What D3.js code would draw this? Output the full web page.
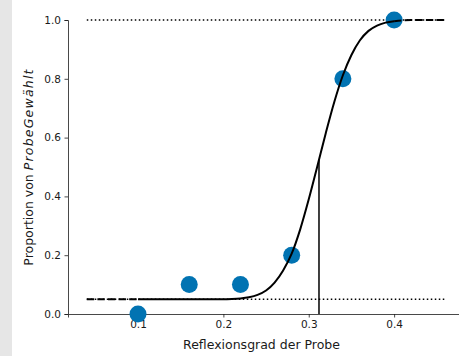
<!DOCTYPE html>
<html>
<head>
<meta charset="utf-8">
<script src="https://cdn.jsdelivr.net/npm/d3@7"></script>
<style>
  body { margin: 0; background: white; }
  svg { display: block; }
  text { font-family: "DejaVu Sans", sans-serif; }
</style>
</head>
<body>
<svg id="chart" width="459" height="356"></svg>
<script>
// observed proportions
var reflect = [0.10, 0.16, 0.22, 0.28, 0.34, 0.40];
var propChosen = [0.0, 0.1, 0.1, 0.2, 0.8, 1.0];

// fitted curve
var curveX = [0.04, 0.05, 0.06, 0.07, 0.08, 0.09, 0.10, 0.11, 0.12, 0.13, 0.14, 0.15,
              0.16, 0.17, 0.18, 0.19, 0.20, 0.21, 0.22, 0.23, 0.24, 0.25, 0.26, 0.27,
              0.28, 0.29, 0.30, 0.31, 0.32, 0.33, 0.34, 0.35, 0.36, 0.37, 0.38, 0.39,
              0.40, 0.41, 0.42, 0.43, 0.44, 0.45, 0.46];
var curveY = [0.050, 0.050, 0.050, 0.050, 0.050, 0.050, 0.050, 0.050, 0.050, 0.050, 0.050, 0.050,
              0.050, 0.050, 0.050, 0.050, 0.050, 0.051, 0.053, 0.057, 0.065, 0.080, 0.107, 0.148,
              0.205, 0.288, 0.390, 0.502, 0.616, 0.722, 0.812, 0.881, 0.931, 0.963, 0.981, 0.991,
              0.996, 0.999, 1.000, 1.000, 1.000, 1.000, 1.000];
var guessRate = 0.05, upperRate = 1.0;
var threshX = 0.312, threshY = 0.525;
var fitRange = [0.10, 0.40];

var xTicks = [0.1, 0.2, 0.3, 0.4];
var yTicks = [0.0, 0.2, 0.4, 0.6, 0.8, 1.0];

var svg = d3.select("#chart");
var mLeft = 68, mRight = 459, mTop = 20, mBottom = 314;

svg.append("rect").attr("x", 0).attr("y", 0).attr("width", 12).attr("height", 356)
   .attr("fill", "#e6e6e6");

var x = d3.scaleLinear().domain([0.018, 0.476]).range([mLeft, mRight]);
var y = d3.scaleLinear().domain([0, 1]).range([mBottom, mTop]);

var xAxis = svg.append("g").attr("transform", "translate(0," + mBottom + ")")
   .call(d3.axisBottom(x).tickValues(xTicks).tickFormat(d3.format(".1f")).tickSize(3.5).tickPadding(3.5));
var yAxis = svg.append("g").attr("transform", "translate(" + mLeft + ",0)")
   .call(d3.axisLeft(y).tickValues(yTicks).tickFormat(d3.format(".1f")).tickSize(3.5).tickPadding(3.5));
[xAxis, yAxis].forEach(function(a) {
    a.selectAll("text").attr("font-size", "10.5px").attr("fill", "#1a1a1a")
     .attr("font-family", "DejaVu Sans");
    a.selectAll("line").attr("stroke", "#1a1a1a").attr("stroke-width", 0.8);
    a.select(".domain").attr("stroke", "#1a1a1a").attr("stroke-width", 0.8);
});

svg.append("text").attr("x", (mLeft + mRight) / 2 - 2).attr("y", 349)
   .attr("text-anchor", "middle").attr("font-size", "12.5px").attr("fill", "#1a1a1a")
   .text("Reflexionsgrad der Probe");

var ylab = svg.append("text").attr("transform", "translate(33," + ((mTop + mBottom) / 2) + ") rotate(-90)")
   .attr("text-anchor", "middle").attr("font-size", "12.5px").attr("fill", "#1a1a1a");
ylab.append("tspan").text("Proportion von ");
ylab.append("tspan").attr("font-style", "italic").attr("letter-spacing", "1.2px").text("ProbeGewählt");

// guess / upper asymptote guides
[guessRate, upperRate].forEach(function(v) {
    svg.append("line")
       .attr("x1", x(0.04)).attr("x2", x(0.46))
       .attr("y1", y(v)).attr("y2", y(v))
       .attr("stroke", "black").attr("stroke-width", 1.5)
       .attr("stroke-dasharray", "1.5,2.5");
});

// threshold line
svg.append("line")
   .attr("x1", x(threshX)).attr("x2", x(threshX))
   .attr("y1", y(0)).attr("y2", y(threshY))
   .attr("stroke", "black").attr("stroke-width", 1.5);

svg.append("g").selectAll("circle")
   .data(reflect).enter().append("circle")
   .attr("cx", function(d) { return x(d); })
   .attr("cy", function(d, i) { return y(propChosen[i]); })
   .attr("r", 8.5)
   .attr("fill", "#0173b2");

var pts = curveX.map(function(d, i) { return [d, curveY[i]]; });
var line = d3.line().x(function(d) { return x(d[0]); }).y(function(d) { return y(d[1]); })
   .curve(d3.curveMonotoneX);

var lowPart = pts.filter(function(d) { return d[0] <= fitRange[0] + 1e-9; });
var midPart = pts.filter(function(d) { return d[0] >= fitRange[0] - 1e-9 && d[0] <= fitRange[1] + 1e-9; });
var highPart = pts.filter(function(d) { return d[0] >= fitRange[1] - 1e-9; });

[lowPart, highPart].forEach(function(p) {
    svg.append("path").attr("d", line(p)).attr("fill", "none")
       .attr("stroke", "black").attr("stroke-width", 2)
       .attr("stroke-dasharray", "7.4,3.2");
});
svg.append("path").attr("d", line(midPart)).attr("fill", "none")
   .attr("stroke", "black").attr("stroke-width", 2);
</script>
</body>
</html>
